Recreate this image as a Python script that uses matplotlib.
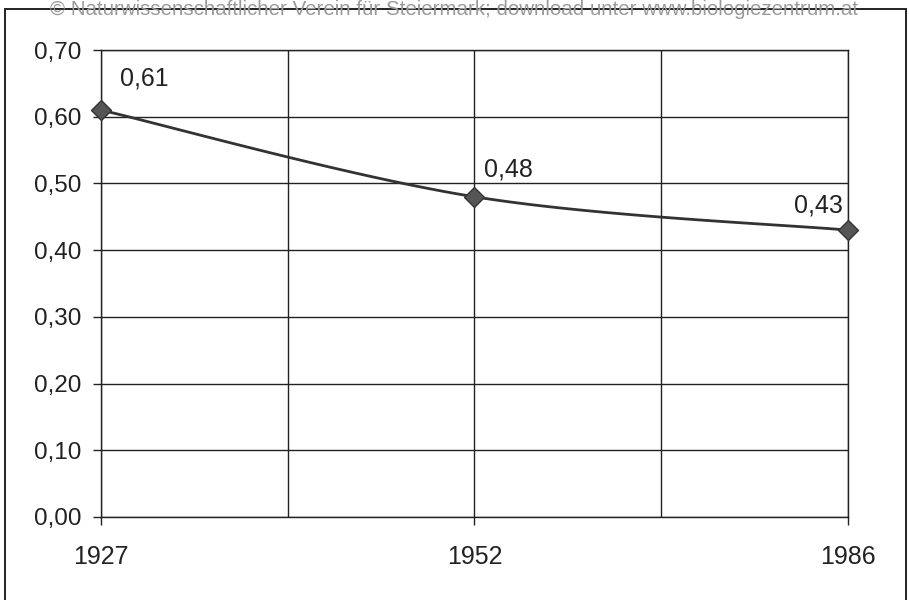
import matplotlib
matplotlib.use("Agg")
import matplotlib.pyplot as plt
import numpy as np
from matplotlib.patches import Rectangle

plt.rcParams['font.family'] = ['Liberation Sans', 'DejaVu Sans']

years = ["1927", "1952", "1986"]
values = [0.61, 0.48, 0.43]
value_labels = ["0,61", "0,48", "0,43"]
y_ticks = [0.0, 0.1, 0.2, 0.3, 0.4, 0.5, 0.6, 0.7]
y_tick_labels = ["0,00", "0,10", "0,20", "0,30", "0,40", "0,50", "0,60", "0,70"]
watermark = "© Naturwissenschaftlicher Verein für Steiermark; download unter www.biologiezentrum.at"

W, H = 909, 600
fig = plt.figure(figsize=(W / 100, H / 100), dpi=100)
fig.patch.set_facecolor("white")

# outer frame of the chart
fig.patches.append(Rectangle((5 / W, -0.02), 901 / W, 1 - 9 / H + 0.02,
                             transform=fig.transFigure, fill=False,
                             edgecolor="#222222", linewidth=1.4, zorder=0))

ax = fig.add_axes([101 / W, 1 - 517 / H, (848 - 101) / W, (517 - 50) / H])
x = np.arange(len(years))

# smoothed line (Catmull-Rom style Bezier, like the spreadsheet smoothing)
pts = np.column_stack([x, values]).astype(float)
curve = []
n = len(pts)
for i in range(n - 1):
    p0 = pts[i - 1] if i > 0 else pts[i]
    p1 = pts[i]
    p2 = pts[i + 1]
    p3 = pts[i + 2] if i + 2 < n else pts[i + 1]
    c1 = p1 + (p2 - p0) / 6.0
    c2 = p2 - (p3 - p1) / 6.0
    t = np.linspace(0, 1, 60)[:, None]
    seg = ((1 - t) ** 3) * p1 + 3 * ((1 - t) ** 2) * t * c1 + 3 * (1 - t) * t ** 2 * c2 + t ** 3 * p2
    curve.append(seg if i == 0 else seg[1:])
curve = np.vstack(curve)
ax.plot(curve[:, 0], curve[:, 1], color="#333333", linewidth=2.0, zorder=3, clip_on=False)
ax.plot(x, values, linestyle="none", marker="D", markersize=10,
        markerfacecolor="#555555", markeredgecolor="#333333", markeredgewidth=1.0,
        zorder=4, clip_on=False)

offsets = [(13.7, 23), (6.5, 19.4), (-3.6, 18)]
has = ["left", "left", "right"]
for xi, v, lab, off, ha in zip(x, values, value_labels, offsets, has):
    ax.annotate(lab, (xi, v), xytext=off, textcoords="offset points",
                ha=ha, va="center", fontsize=18, color="#222222")

ax.set_xlim(0, len(years) - 1)
ax.set_ylim(0, 0.7)
ax.set_yticks(y_ticks)
ax.set_yticklabels(y_tick_labels)
ax.set_xticks(x)
ax.set_xticklabels(years)

# gridlines
for yt in y_ticks:
    ax.axhline(yt, color="#222222", linewidth=1.0, zorder=1)
for xg in np.arange(0, len(years) - 0.99, 0.5):
    ax.axvline(xg, color="#222222", linewidth=1.0, zorder=1)

for s in ax.spines.values():
    s.set_color("#222222")
    s.set_linewidth(1.0)

ax.tick_params(axis="y", direction="out", length=5.8, width=1.0, color="#222222",
               labelsize=17.5, labelcolor="#222222", pad=8.2)
ax.tick_params(axis="x", direction="out", length=5.8, width=1.0, color="#222222",
               labelsize=18, labelcolor="#222222", pad=14.5)

fig.text(0.5, 1 - 15 / H, watermark, ha="center", va="baseline", fontsize=14.8,
         color="#9a9a9a", zorder=5)

fig.savefig("out.png", dpi=100)
